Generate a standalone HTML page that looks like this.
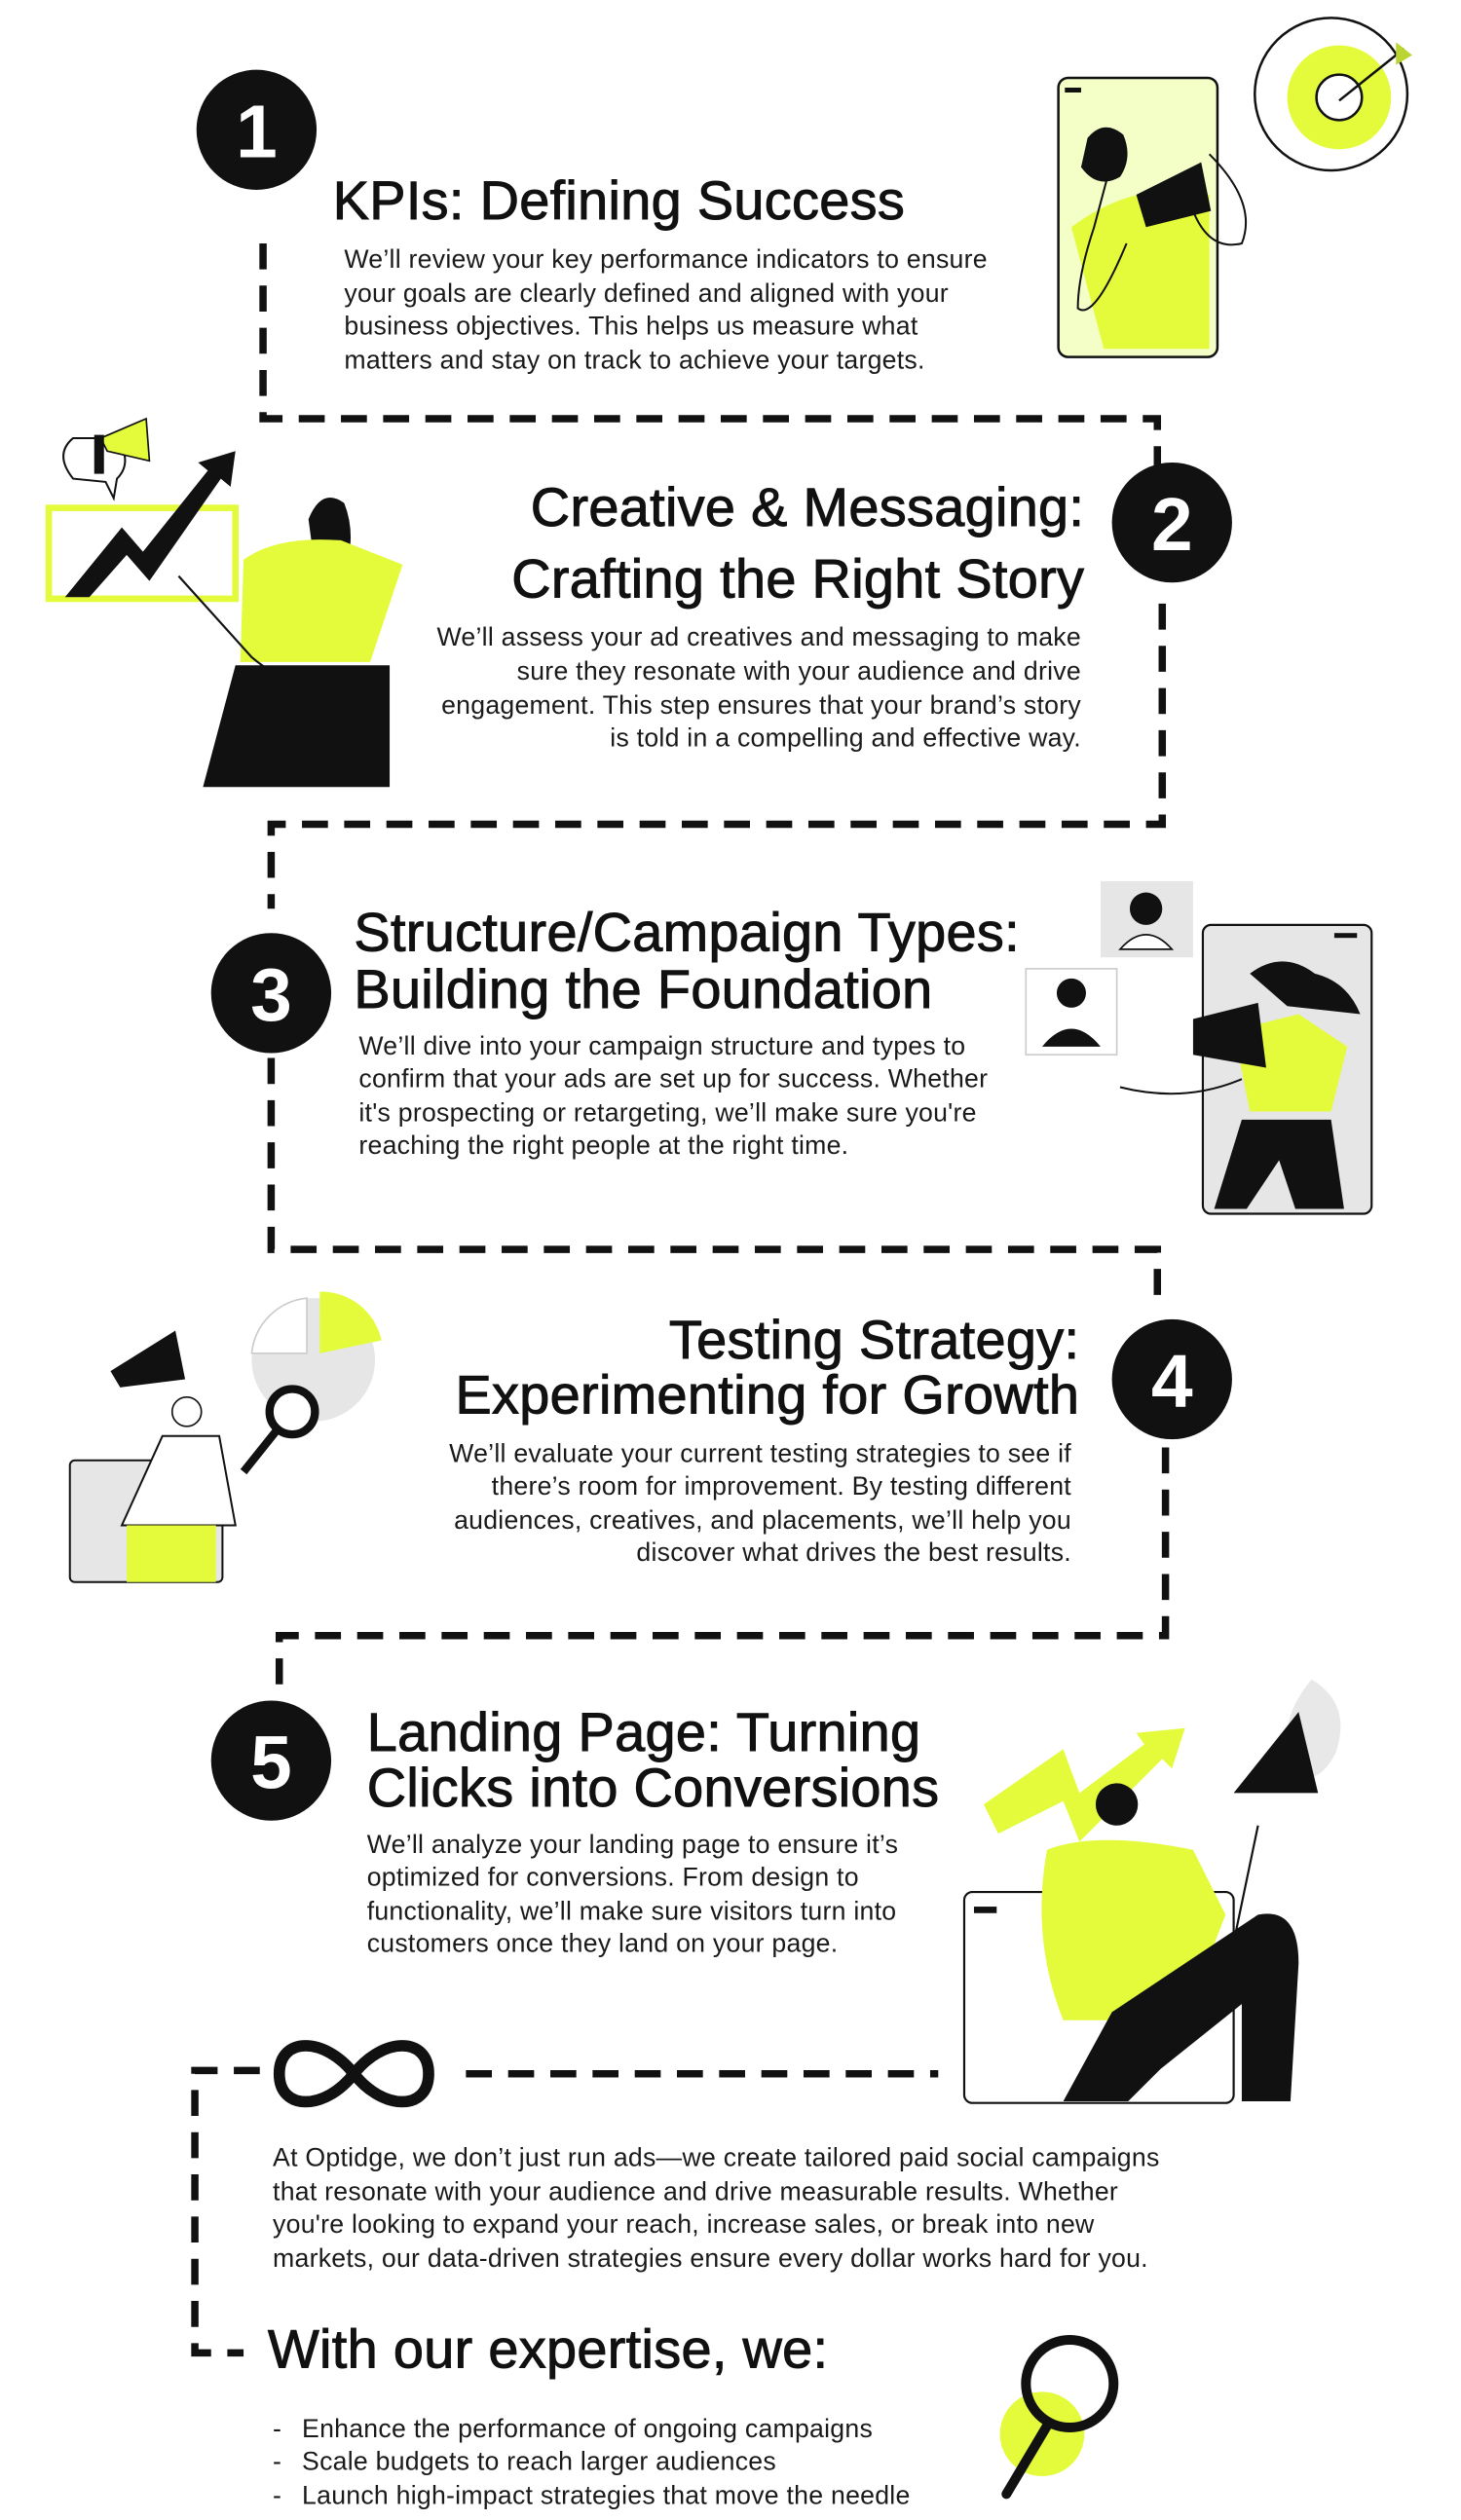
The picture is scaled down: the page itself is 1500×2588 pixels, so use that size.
<!DOCTYPE html>
<html><head><meta charset="utf-8">
<style>
html,body{margin:0;padding:0;background:#fff;width:1500px;height:2588px;overflow:hidden}
svg{display:block}
.t{font-family:"Liberation Sans",sans-serif;font-size:33.5px;fill:#111;stroke:#111;stroke-width:0.6px;letter-spacing:0.2px}
.b{font-family:"Liberation Sans",sans-serif;font-size:16px;letter-spacing:0.15px;fill:#1a1a1a}
.n{font-family:"Liberation Sans",sans-serif;font-size:46px;font-weight:bold;fill:#fff;text-anchor:middle}
.d{fill:none;stroke:#111;stroke-width:4.5;stroke-dasharray:16 10}
</style></head><body>
<svg width="1500" height="2588" viewBox="0 0 900 1553" xmlns="http://www.w3.org/2000/svg">
<rect width="900" height="1553" fill="#fff"/>

<path class="d" d="M162 150 V258 H713 V290"/>
<path class="d" d="M716 372 V508 H167 V560"/>
<path class="d" d="M167 652 V770 H713 V800"/>
<path class="d" d="M718 892 V1008 H172 V1045"/>
<path class="d" d="M160 1276 H120 V1450 H150" />
<path class="d" d="M287 1278 H578"/>

<circle cx="158" cy="80" r="37" fill="#111"/><text class="n" x="158" y="97">1</text>
<circle cx="722" cy="322" r="37" fill="#111"/><text class="n" x="722" y="339">2</text>
<circle cx="167" cy="612" r="37" fill="#111"/><text class="n" x="167" y="629">3</text>
<circle cx="722" cy="850" r="37" fill="#111"/><text class="n" x="722" y="867">4</text>
<circle cx="167" cy="1085" r="37" fill="#111"/><text class="n" x="167" y="1102">5</text>

<path d="M218 1278 C200 1255 172 1255 172 1278 C172 1301 200 1301 218 1278 C236 1255 264 1255 264 1278 C264 1301 236 1301 218 1278Z" fill="none" stroke="#111" stroke-width="7"/>

<text class="t" x="205" y="135">KPIs: Defining Success</text>
<text class="b" x="212" y="165">We’ll review your key performance indicators to ensure</text>
<text class="b" x="212" y="186">your goals are clearly defined and aligned with your</text>
<text class="b" x="212" y="206">business objectives. This helps us measure what</text>
<text class="b" x="212" y="227">matters and stay on track to achieve your targets.</text>
<rect x="652" y="48" width="98" height="172" rx="6" fill="#f4ffc8" stroke="#111" stroke-width="1.5"/>
<path d="M660 140 Q700 110 745 120 L745 215 L680 215 Z" fill="#e4fb3c"/>
<rect x="656" y="54" width="10" height="3" fill="#111"/>
<path d="M670 85 q10 -12 22 -2 q6 14 -2 26 q-14 8 -24 -6z" fill="#111"/>
<path d="M682 110 l-8 30 q-10 30 -10 50 q10 8 30 -40" fill="none" stroke="#111" stroke-width="1.2"/>
<path d="M700 120 l40 -20 l6 30 l-40 10z" fill="#111"/>
<path d="M745 95 q30 30 20 55 q-20 5 -30 -20" fill="none" stroke="#111" stroke-width="1.2"/>
<circle cx="820" cy="58" r="47" fill="#fff" stroke="#111" stroke-width="1.5"/>
<circle cx="825" cy="60" r="32" fill="#e4fb3c"/>
<circle cx="825" cy="60" r="14" fill="#fff" stroke="#111" stroke-width="1.5"/>
<path d="M825 62 L865 30" stroke="#111" stroke-width="1.5"/>
<path d="M860 26 l10 8 l-10 6z" fill="#bcd431"/>

<text class="t" x="668" y="324" text-anchor="end">Creative &amp; Messaging:</text>
<text class="t" x="668" y="368" text-anchor="end">Crafting the Right Story</text>
<text class="b" x="666" y="398" text-anchor="end">We’ll assess your ad creatives and messaging to make</text>
<text class="b" x="666" y="419" text-anchor="end">sure they resonate with your audience and drive</text>
<text class="b" x="666" y="440" text-anchor="end">engagement. This step ensures that your brand’s story</text>
<text class="b" x="666" y="460" text-anchor="end">is told in a compelling and effective way.</text>
<rect x="30" y="313" width="115" height="56" fill="#fff" stroke="#e4fb3c" stroke-width="4"/>
<path d="M40 368 L75 325 L88 340 L128 290 L122 285 L145 278 L142 300 L136 295 L92 358 L78 342 L55 368Z" fill="#111"/>
<path d="M45 270 q-12 10 0 25 l20 2 l5 10 l2 -12 q10 -10 0 -25z" fill="#fff" stroke="#111" stroke-width="1.2"/>
<path d="M62 270 l28 -12 l2 26 l-26 -6z" fill="#e4fb3c" stroke="#111" stroke-width="1"/>
<rect x="58" y="268" width="6" height="24" fill="#111"/>
<path d="M190 320 q8 -20 22 -10 q8 20 0 45 l-18 -5z" fill="#111"/>
<path d="M150 345 q20 -15 60 -12 l38 15 l-20 60 l-80 0z" fill="#e4fb3c"/>
<path d="M145 410 l95 0 l0 75 l-115 0z" fill="#111"/>
<path d="M110 355 l45 50 q30 25 60 20" fill="none" stroke="#111" stroke-width="1.3"/>

<text class="t" x="218" y="586">Structure/Campaign Types:</text>
<text class="t" x="218" y="621">Building the Foundation</text>
<text class="b" x="221" y="650">We’ll dive into your campaign structure and types to</text>
<text class="b" x="221" y="670">confirm that your ads are set up for success. Whether</text>
<text class="b" x="221" y="691">it's prospecting or retargeting, we’ll make sure you're</text>
<text class="b" x="221" y="711">reaching the right people at the right time.</text>
<rect x="741" y="570" width="104" height="178" rx="5" fill="#e6e6e6" stroke="#111" stroke-width="1.3"/>
<rect x="822" y="575" width="14" height="3" fill="#111"/>
<rect x="678" y="543" width="57" height="47" fill="#e6e6e6"/>
<circle cx="706" cy="560" r="10" fill="#111"/><path d="M690 585 q16 -18 32 0z" fill="#fff" stroke="#111"/>
<rect x="632" y="597" width="56" height="53" fill="#fff" stroke="#ccc"/>
<circle cx="660" cy="612" r="9" fill="#111"/><path d="M642 645 q18 -22 36 0z" fill="#111"/>
<path d="M770 600 q20 -15 40 0 q20 5 28 25 l-45 -5z" fill="#111"/>
<path d="M760 635 l40 -10 l30 20 l-10 40 l-50 0z" fill="#e4fb3c"/>
<path d="M735 628 l40 -10 l5 40 l-45 -8z" fill="#111"/>
<path d="M765 690 l55 0 l8 55 l-30 0 l-10 -30 l-20 30 l-20 0z" fill="#111"/>
<path d="M690 670 q40 10 75 -5" fill="none" stroke="#111" stroke-width="1.2"/>

<text class="t" x="665" y="837" text-anchor="end">Testing Strategy:</text>
<text class="t" x="665" y="871" text-anchor="end">Experimenting for Growth</text>
<text class="b" x="660" y="901" text-anchor="end">We’ll evaluate your current testing strategies to see if</text>
<text class="b" x="660" y="921" text-anchor="end">there’s room for improvement. By testing different</text>
<text class="b" x="660" y="942" text-anchor="end">audiences, creatives, and placements, we’ll help you</text>
<text class="b" x="660" y="962" text-anchor="end">discover what drives the best results.</text>
<circle cx="193" cy="838" r="38" fill="#e6e6e6"/>
<path d="M193 838 L193 800 A38 38 0 0 1 231 830Z" fill="#e4fb3c" transform="translate(4,-4)"/>
<path d="M189 834 L189 800 A38 38 0 0 0 155 834Z" fill="#fff" stroke="#ccc"/>
<circle cx="180" cy="870" r="14" fill="#fff" stroke="#111" stroke-width="5"/>
<path d="M170 882 l-20 25" stroke="#111" stroke-width="5"/>
<rect x="43" y="900" width="94" height="75" rx="3" fill="#e6e6e6" stroke="#111" stroke-width="1.2"/>
<path d="M68 845 l40 -25 l6 30 l-40 5z" fill="#111"/>
<circle cx="115" cy="870" r="9" fill="#fff" stroke="#111"/>
<path d="M100 885 l35 0 l10 55 l-70 0z" fill="#fff" stroke="#111" stroke-width="1.2"/>
<path d="M78 940 l55 0 l0 35 l-55 0z" fill="#e4fb3c"/>

<text class="t" x="226" y="1079">Landing Page: Turning</text>
<text class="t" x="226" y="1113">Clicks into Conversions</text>
<text class="b" x="226" y="1142">We’ll analyze your landing page to ensure it’s</text>
<text class="b" x="226" y="1162">optimized for conversions. From design to</text>
<text class="b" x="226" y="1183">functionality, we’ll make sure visitors turn into</text>
<text class="b" x="226" y="1203">customers once they land on your page.</text>
<rect x="594" y="1166" width="166" height="130" rx="5" fill="#fff" stroke="#111" stroke-width="1.3"/>
<rect x="600" y="1175" width="14" height="4" fill="#111"/>
<path d="M606 1112 L655 1078 L665 1105 L705 1075 L700 1068 L730 1065 L722 1090 L716 1084 L665 1135 L655 1110 L615 1130Z" fill="#e4fb3c"/>
<path d="M808 1035 q25 15 15 45 q-10 20 -25 15 q-15 -30 10 -60z" fill="#e8e8e8"/>
<path d="M760 1105 l40 -50 l12 50z" fill="#111"/>
<circle cx="688" cy="1112" r="13" fill="#111"/>
<path d="M645 1140 q30 -12 90 0 l20 40 l-25 65 l-75 0 q-20 -50 -10 -105z" fill="#e4fb3c"/>
<path d="M655 1295 l30 -55 l90 -60 q25 -5 25 30 l-5 85 l-30 0 l0 -60 l-50 40 l-20 20z" fill="#111"/>
<path d="M775 1125 l-25 120" stroke="#111" stroke-width="1.3"/>

<text class="b" x="168" y="1335">At Optidge, we don’t just run ads—we create tailored paid social campaigns</text>
<text class="b" x="168" y="1356">that resonate with your audience and drive measurable results. Whether</text>
<text class="b" x="168" y="1376">you're looking to expand your reach, increase sales, or break into new</text>
<text class="b" x="168" y="1397">markets, our data-driven strategies ensure every dollar works hard for you.</text>
<text class="t" x="165" y="1459">With our expertise, we:</text>
<text class="b" x="168" y="1502">-</text><text class="b" x="186" y="1502">Enhance the performance of ongoing campaigns</text>
<text class="b" x="168" y="1522">-</text><text class="b" x="186" y="1522">Scale budgets to reach larger audiences</text>
<text class="b" x="168" y="1543">-</text><text class="b" x="186" y="1543">Launch high-impact strategies that move the needle</text>

<circle cx="642" cy="1500" r="26" fill="#e4fb3c"/>
<circle cx="659" cy="1469" r="27" fill="none" stroke="#111" stroke-width="6"/>
<path d="M645 1495 L620 1537" stroke="#111" stroke-width="6" stroke-linecap="round"/>
</svg>
</body></html>
